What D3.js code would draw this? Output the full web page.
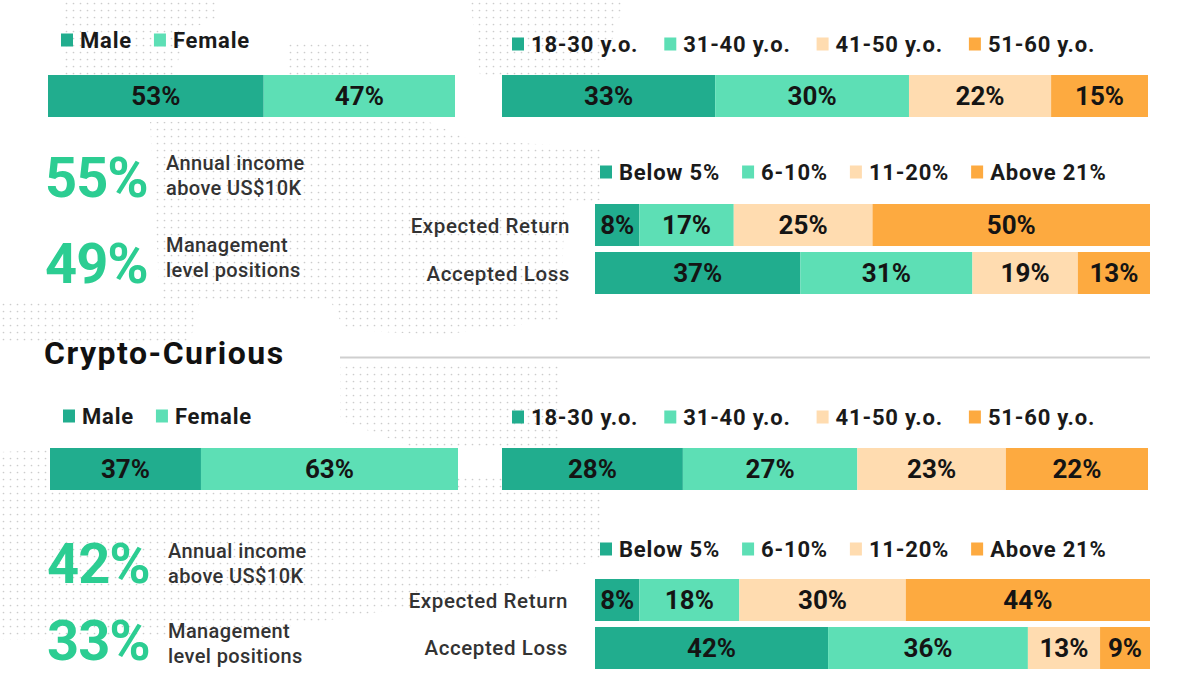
<!DOCTYPE html>
<html>
<head>
<meta charset="utf-8">
<script src="https://cdn.jsdelivr.net/npm/d3@7"></script>
<style>
  html, body { margin: 0; padding: 0; background: #fff; }
  svg { display: block; font-family: Roboto, "Noto Sans", sans-serif; }
</style>
</head>
<body>
<svg id="chart" width="1200" height="675"></svg>
<script>
// ---------- DATA ----------
const genderLabels = ["Male", "Female"];
const ageLabels = ["18-30 y.o.", "31-40 y.o.", "41-50 y.o.", "51-60 y.o."];
const riskLabels = ["Below 5%", "6-10%", "11-20%", "Above 21%"];
const rowLabels = ["Expected Return", "Accepted Loss"];
const statLabels = [["Annual income", "above US$10K"], ["Management", "level positions"]];
const sectionTitle = "Crypto-Curious";

const topGender = [53, 47];
const topAge = [33, 30, 22, 15];
const topExpected = [8, 17, 25, 50];
const topLoss = [37, 31, 19, 13];
const topStats = [55, 49];

const bottomGender = [37, 63];
const bottomAge = [28, 27, 23, 22];
const bottomExpected = [8, 18, 30, 44];
const bottomLoss = [42, 36, 13, 9];
const bottomStats = [42, 33];

// ---------- STYLE ----------
const palette4 = ["#21ad8e", "#5ddfb5", "#ffdcb0", "#fdaa40"];
const statColor = "#2ccd92";
const svg = d3.select("#chart");

// ---------- DECORATIVE DOT MAP ----------
const defs = svg.append("defs");
const pat = defs.append("pattern").attr("id", "dots")
  .attr("patternUnits", "userSpaceOnUse").attr("width", 7).attr("height", 7);
pat.append("circle").attr("cx", 3.5).attr("cy", 3.5).attr("r", 0.85).attr("fill", "#cccccc");
const dotRegions = [
  [[65,0],[215,0],[215,20],[185,30],[175,75],[65,75]],
  [[285,40],[372,40],[372,75],[285,75]],
  [[470,0],[625,0],[612,40],[600,75],[480,75]],
  [[150,122],[420,118],[470,140],[600,148],[600,200],[565,205],[560,320],[440,335],[345,330],[330,300],[160,300]],
  [[0,300],[200,300],[190,342],[0,342]],
  [[0,452],[140,446],[200,480],[330,470],[600,480],[600,560],[450,600],[330,620],[200,640],[0,640]],
  [[340,362],[560,362],[560,450],[420,450],[340,420]]
];
svg.append("g").selectAll("path").data(dotRegions).join("path")
  .attr("d", d => d3.line()(d) + "Z")
  .attr("fill", "url(#dots)");

// ---------- HELPERS ----------
function stackedBar(g, values, x0, x1, y0, y1, colors) {
  const total = d3.sum(values);
  const x = d3.scaleLinear().domain([0, total]).range([x0, x1]);
  const cum = d3.cumsum(values);
  const segs = values.map((v, i) => ({ v, s: i ? cum[i - 1] : 0, e: cum[i], c: colors[i] }));
  const bg = g.append("g");
  bg.selectAll("rect").data(segs).join("rect")
    .attr("x", d => x(d.s)).attr("y", y0)
    .attr("width", d => x(d.e) - x(d.s)).attr("height", y1 - y0)
    .attr("fill", d => d.c);
  bg.selectAll("text").data(segs).join("text")
    .attr("x", d => (x(d.s) + x(d.e)) / 2)
    .attr("y", (y0 + y1) / 2)
    .attr("dy", "0.36em")
    .attr("text-anchor", "middle")
    .attr("font-size", 26).attr("font-weight", 700).attr("fill", "#141414")
    .text(d => d.v + "%");
}

function legend(g, labels, colors, xStart, yCenter, gap, fontSize) {
  let x = xStart;
  labels.forEach((lab, i) => {
    const it = g.append("g");
    it.append("rect").attr("x", x).attr("y", yCenter - 6.5).attr("width", 12).attr("height", 13).attr("fill", colors[i]);
    const t = it.append("text").attr("x", x + 19).attr("y", yCenter).attr("dy", "0.36em")
      .attr("font-size", fontSize).attr("font-weight", 700).attr("fill", "#1a1a1a")
      .attr("letter-spacing", 0.8).text(lab);
    x += 19 + t.node().getComputedTextLength() + gap;
  });
}

function stat(g, value, lines, x, baseline, textX, line1Base) {
  g.append("text").attr("x", x).attr("y", baseline)
    .attr("font-size", 56).attr("font-weight", 700).attr("fill", statColor)
    .attr("letter-spacing", -1).text(value + "%");
  lines.forEach((l, i) => {
    g.append("text").attr("x", textX).attr("y", line1Base + i * 25)
      .attr("font-size", 20).attr("font-weight", 500).attr("fill", "#333")
      .attr("letter-spacing", 0.4).text(l);
  });
}

function rowLabel(g, text, xRight, yCenter) {
  g.append("text").attr("x", xRight).attr("y", yCenter).attr("dy", "0.36em")
    .attr("text-anchor", "end").attr("font-size", 20.5).attr("font-weight", 500)
    .attr("letter-spacing", 0.6).attr("fill", "#333").text(text);
}

const main = svg.append("g");

// ---------- TOP SECTION ----------
legend(main, genderLabels, palette4, 61, 40, 22, 22);
stackedBar(main, topGender, 48, 455, 75, 117, palette4);
legend(main, ageLabels, palette4, 512, 44, 26, 22);
stackedBar(main, topAge, 502, 1148, 75, 117, palette4);

stat(main, topStats[0], statLabels[0], 45, 197, 166, 170);
stat(main, topStats[1], statLabels[1], 45, 283, 166, 252);

legend(main, riskLabels, palette4, 600, 172, 22, 22);
rowLabel(main, rowLabels[0], 570, 226);
rowLabel(main, rowLabels[1], 570, 274);
stackedBar(main, topExpected, 595, 1150, 204, 246, palette4);
stackedBar(main, topLoss, 595, 1150, 252, 294, palette4);

// ---------- SECTION TITLE ----------
main.append("text").attr("x", 44).attr("y", 364)
  .attr("font-size", 32).attr("font-weight", 700).attr("fill", "#111")
  .attr("letter-spacing", 1.5).text(sectionTitle);
main.append("line").attr("x1", 340).attr("x2", 1150).attr("y1", 357.5).attr("y2", 357.5)
  .attr("stroke", "#cfcfcf").attr("stroke-width", 2);

// ---------- BOTTOM SECTION ----------
legend(main, genderLabels, palette4, 63, 416, 22, 22);
stackedBar(main, bottomGender, 50, 458, 448, 490, palette4);
legend(main, ageLabels, palette4, 512, 417, 26, 22);
stackedBar(main, bottomAge, 502, 1148, 448, 490, palette4);

stat(main, bottomStats[0], statLabels[0], 47, 583, 168, 558);
stat(main, bottomStats[1], statLabels[1], 47, 660, 168, 638);

legend(main, riskLabels, palette4, 600, 549, 22, 22);
rowLabel(main, rowLabels[0], 568, 601);
rowLabel(main, rowLabels[1], 568, 648);
stackedBar(main, bottomExpected, 595, 1150, 579, 621, palette4);
stackedBar(main, bottomLoss, 595, 1150, 627, 669, palette4);
</script>
</body>
</html>
